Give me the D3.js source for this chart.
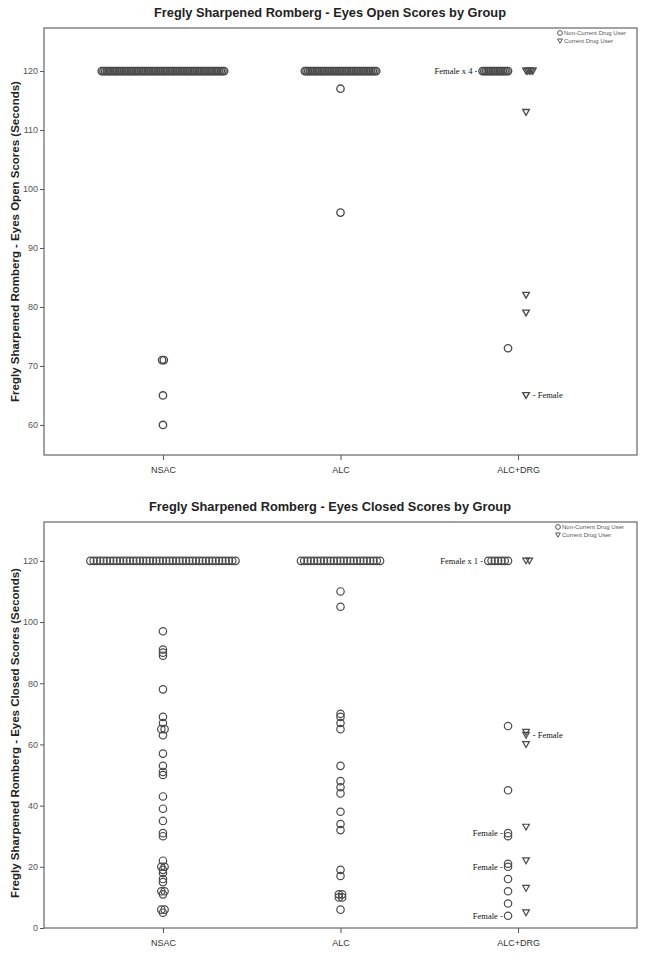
<!DOCTYPE html>
<html>
<head>
<meta charset="utf-8">
<script src="https://cdn.jsdelivr.net/npm/d3@7"></script>
<style>
  body { margin: 0; background: #fff; }
  svg { display: block; font-family: Arial, "Liberation Sans", sans-serif; }
</style>
</head>
<body>
<svg id="chart" width="645" height="963"></svg>
<script>
const groups = ["NSAC", "ALC", "ALC+DRG"];
const ceiling = 120;

// Eyes open: number of subjects at the 120 s ceiling, per group, then the rest
const openCeilingNonUser = [73, 43, 16];
const openCeilingUser = [0, 0, 5];
const openNonUser = [[71, 71, 65, 60], [117, 96], [73]];
const openUser = [[], [], [113, 82, 79, 65]];
const openTicks = [60, 70, 80, 90, 100, 110, 120];

// Eyes closed
const closedCeilingNonUser = [45, 25, 7];
const closedCeilingUser = [0, 0, 2];
const closedNonUser = [
  [97, 91, 90, 89, 78, 69, 67, 65, 65, 63, 57, 53, 51, 50, 43, 39, 35, 31, 30, 22, 20, 20, 19, 18, 16, 15, 12, 12, 11, 6, 6, 5],
  [110, 105, 70, 69, 67, 65, 53, 48, 46, 44, 38, 34, 32, 19, 17, 11, 11, 10, 10, 6],
  [66, 45, 31, 30, 21, 20, 16, 12, 8, 4]
];
const closedUser = [[], [], [64, 63, 60, 33, 22, 13, 5]];
const closedTicks = [0, 20, 40, 60, 80, 100, 120];

// "Female" annotations: group index, user flag, value, text
const openNotes = [
  { group: 2, user: false, value: 120, text: "Female x 4 -" },
  { group: 2, user: true, value: 65, text: "- Female" }
];
const closedNotes = [
  { group: 2, user: false, value: 120, text: "Female x 1 -" },
  { group: 2, user: true, value: 63, text: "- Female" },
  { group: 2, user: false, value: 31, text: "Female -" },
  { group: 2, user: false, value: 20, text: "Female -" },
  { group: 2, user: false, value: 4, text: "Female -" }
];

const svg = d3.select("#chart");
const markColor = "#4a4a4a";
const r = 3.7;
const triPath = "M-3.3,-2.8 L3.3,-2.8 L0,3 Z";

function stackMarks(values, count, gi, user, mixed, step, x) {
  const all = values.concat(d3.range(count).map(() => ceiling));
  const bins = d3.group(all, (v) => v);
  const marks = [];
  const center = x(groups[gi]);
  bins.forEach((list, value) => {
    list.forEach((_, i) => {
      let cx;
      if (!mixed) cx = center + (i - (list.length - 1) / 2) * step;
      else if (user) cx = center + 8 + i * step;
      else cx = center - 10 - i * step;
      marks.push({ value, cx, user, gi });
    });
  });
  return marks;
}

function drawPanel(cfg) {
  const left = 44, right = 637;
  const x = d3.scalePoint().domain(groups).range([left, right]).padding(0.67);
  const y = d3.scaleLinear().domain(cfg.domain).range([cfg.bottom, cfg.top]);
  const g = svg.append("g");

  g.append("text")
    .attr("x", 330).attr("y", cfg.titleY)
    .attr("text-anchor", "middle")
    .attr("font-size", 12.8).attr("font-weight", "bold").attr("fill", "#222")
    .text(cfg.title);

  g.append("text")
    .attr("transform", `translate(19,${(cfg.top + cfg.bottom) / 2 + cfg.yTitleShift}) rotate(-90)`)
    .attr("text-anchor", "middle")
    .attr("font-size", 11.5).attr("font-weight", "bold").attr("fill", "#222")
    .text(cfg.yTitle);

  g.append("rect")
    .attr("x", left).attr("y", cfg.top)
    .attr("width", right - left).attr("height", cfg.bottom - cfg.top)
    .attr("fill", "none").attr("stroke", "#666").attr("stroke-width", 1.2);

  g.append("g")
    .attr("transform", `translate(${left},0)`)
    .call(d3.axisLeft(y).tickValues(cfg.ticks).tickSize(4).tickPadding(2))
    .call((a) => a.select(".domain").remove())
    .call((a) => a.selectAll("line").attr("stroke", "#555"))
    .call((a) => a.selectAll("text").attr("font-size", 9).attr("fill", "#555").attr("font-family", "Arial, sans-serif"));

  g.append("g")
    .attr("transform", `translate(0,${cfg.bottom})`)
    .call(d3.axisBottom(x).tickSize(5).tickPadding(7))
    .call((a) => a.select(".domain").remove())
    .call((a) => a.selectAll("line").attr("stroke", "#555"))
    .call((a) => a.selectAll("text").attr("font-size", 9).attr("fill", "#333").attr("font-family", "Arial, sans-serif"));

  let marks = [];
  groups.forEach((_, gi) => {
    const mixed = cfg.user[gi].length + cfg.ceilUser[gi] > 0;
    marks = marks.concat(stackMarks(cfg.nonUser[gi], cfg.ceilNonUser[gi], gi, false, mixed, cfg.step, x));
    marks = marks.concat(stackMarks(cfg.user[gi], cfg.ceilUser[gi], gi, true, mixed, cfg.step, x));
  });

  g.append("g").selectAll("circle")
    .data(marks.filter((d) => !d.user))
    .join("circle")
    .attr("cx", (d) => d.cx).attr("cy", (d) => y(d.value)).attr("r", r)
    .attr("fill", "none").attr("stroke", markColor).attr("stroke-width", cfg.markWidth);

  g.append("g").selectAll("path")
    .data(marks.filter((d) => d.user))
    .join("path")
    .attr("transform", (d) => `translate(${d.cx},${y(d.value)})`)
    .attr("d", triPath)
    .attr("fill", "none").attr("stroke", markColor).attr("stroke-width", cfg.markWidth);

  cfg.notes.forEach((n) => {
    const own = marks.filter((d) => d.gi === n.group && d.user === n.user && d.value === n.value);
    const leftSide = n.text.endsWith("-");
    const xs = own.map((d) => d.cx);
    g.append("text")
      .attr("x", leftSide ? d3.min(xs) - r - 1.5 : d3.max(xs) + r + 3)
      .attr("y", y(n.value) + 3)
      .attr("text-anchor", leftSide ? "end" : "start")
      .attr("font-family", "'Liberation Serif', 'Times New Roman', serif")
      .attr("font-size", 8.5).attr("fill", "#111")
      .text(n.text);
  });

  const lg = g.append("g").attr("transform", `translate(${cfg.legendX},${cfg.top + 5})`);
  lg.append("circle").attr("cx", 0).attr("cy", 0).attr("r", 2.4)
    .attr("fill", "none").attr("stroke", "#444").attr("stroke-width", 0.9);
  lg.append("path").attr("transform", "translate(0,8)").attr("d", "M-2.4,-2 L2.4,-2 L0,2.2 Z")
    .attr("fill", "none").attr("stroke", "#444").attr("stroke-width", 0.9);
  lg.append("text").attr("x", 4).attr("y", 2).attr("font-size", 6).attr("fill", "#555").text("Non-Current Drug User");
  lg.append("text").attr("x", 4).attr("y", 10).attr("font-size", 6).attr("fill", "#555").text("Current Drug User");
}

drawPanel({
  title: "Fregly Sharpened Romberg - Eyes Open Scores by Group",
  yTitle: "Fregly Sharpened Romberg - Eyes Open Scores (Seconds)",
  titleY: 17, top: 28, bottom: 455, domain: [54.9, 127.3], ticks: openTicks,
  nonUser: openNonUser, user: openUser,
  ceilNonUser: openCeilingNonUser, ceilUser: openCeilingUser,
  notes: openNotes, step: 1.7, legendX: 560, yTitleShift: 0, markWidth: 1.35
});

drawPanel({
  title: "Fregly Sharpened Romberg - Eyes Closed Scores by Group",
  yTitle: "Fregly Sharpened Romberg - Eyes Closed Scores (Seconds)",
  titleY: 511, top: 522, bottom: 928, domain: [0, 132.7], ticks: closedTicks,
  nonUser: closedNonUser, user: closedUser,
  ceilNonUser: closedCeilingNonUser, ceilUser: closedCeilingUser,
  notes: closedNotes, step: 3.3, legendX: 558, yTitleShift: 8, markWidth: 1.2
});
</script>
</body>
</html>
